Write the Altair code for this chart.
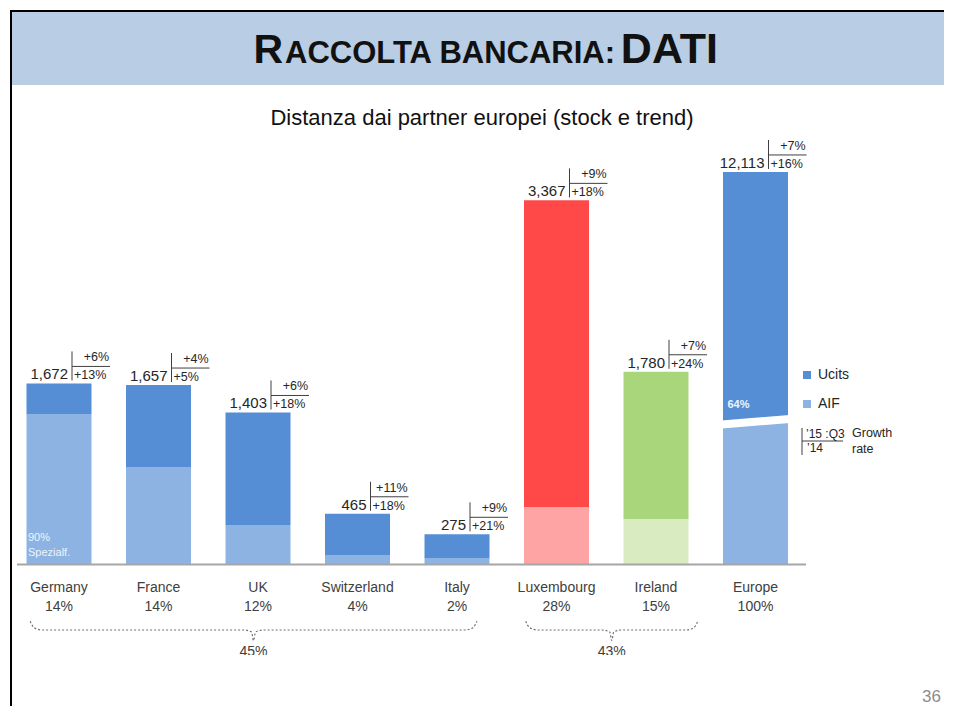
import altair as alt
import pandas as pd

# ---------------- data ----------------
countries = ["Germany", "France", "UK", "Switzerland", "Italy", "Luxembourg", "Ireland", "Europe"]
shares = ["14%", "14%", "12%", "4%", "2%", "28%", "15%", "100%"]
totals = [1672, 1657, 1403, 465, 275, 3367, 1780, 12113]
total_labels = ["1,672", "1,657", "1,403", "465", "275", "3,367", "1,780", "12,113"]
aif_values = [1389, 898, 361, 83, 56, 528, 417, 4361]
growth_q3 = ["+6%", "+4%", "+6%", "+11%", "+9%", "+9%", "+7%", "+7%"]
growth_14 = ["+13%", "+5%", "+18%", "+18%", "+21%", "+18%", "+24%", "+16%"]
ucits_colors = ["#558ed5", "#558ed5", "#558ed5", "#558ed5", "#558ed5", "#ff4848", "#a9d57b", "#558ed5"]
aif_colors = ["#8db3e2", "#8db3e2", "#8db3e2", "#8db3e2", "#8db3e2", "#ffa4a4", "#d8ebc1", "#8db3e2"]
# Europe is drawn on a broken axis
europe_break_at = 1320
europe_shown_top = 3630
europe_break_band = [1290, 1345]
# curly braces grouping countries (label, first pos, last pos)
brace_groups = [("45%", -0.29, 4.2), ("43%", 4.69, 6.42)]
legend_types = ["Ucits", "AIF"]
legend_colors = ["#558ed5", "#8db3e2"]

FONT = "Liberation Sans"
W, H = 936, 698

def px(x):
    return x - 8

xs = alt.Scale(domain=[0, 7], range=[51, 747.5], padding=0, nice=False, zero=False)
ys = alt.Scale(domain=[0, 4000], range=[556, 124], padding=0, nice=False)

# ---------------- tables ----------------
rows = []
tops = []
for i, c in enumerate(countries):
    if c == "Europe":
        a_top, top = europe_break_at, europe_shown_top
    else:
        a_top, top = aif_values[i], totals[i]
    rows.append({"pos": i, "country": c, "type": "AIF", "start": 0, "end": a_top, "color": aif_colors[i]})
    rows.append({"pos": i, "country": c, "type": "Ucits", "start": a_top, "end": top, "color": ucits_colors[i]})
    tops.append({"pos": i, "top": top, "label": total_labels[i], "g1": growth_q3[i], "g2": growth_14[i],
                 "country": c, "share": shares[i]})
bars_df = pd.DataFrame(rows)
tops_df = pd.DataFrame(tops)

brace_rows = []
for gi, (lab, x0, x1) in enumerate(brace_groups):
    mid = (x0 + x1) / 2
    pts = [(x0, -530), (x0 + 0.04, -590), (x0 + 0.12, -611), (mid - 0.1, -611), (mid - 0.02, -630),
           (mid, -710), (mid + 0.02, -630), (mid + 0.1, -611), (x1 - 0.12, -611), (x1 - 0.04, -590), (x1, -530)]
    for k, (x, y) in enumerate(pts):
        brace_rows.append({"g": gi, "o": k, "x": x, "y": y})
brace_df = pd.DataFrame(brace_rows)
brace_lab_df = pd.DataFrame({"x": [(a + b) / 2 for _, a, b in brace_groups], "label": [g[0] for g in brace_groups]})

one = pd.DataFrame({"k": [0]})

def txt(s, x, y, size, align="left", color="#262626", weight="normal", baseline="middle", font=FONT):
    return alt.Chart(one).mark_text(text=s, fontSize=size, align=align, baseline=baseline, color=color,
                                    fontWeight=weight, font=font).encode(x=alt.value(px(x)), y=alt.value(px(y)))

def X(field="pos"):
    return alt.X(f"{field}:Q", scale=xs, axis=None)

def Y(field):
    return alt.Y(f"{field}:Q", scale=ys, axis=None)

# ---------------- slide frame ----------------
frame_left = alt.Chart(one).mark_rule(color="black", strokeWidth=2).encode(
    x=alt.value(3), y=alt.value(3), y2=alt.value(H))
frame_top = alt.Chart(one).mark_rule(color="black", strokeWidth=2).encode(
    x=alt.value(2), x2=alt.value(W), y=alt.value(3))
band = alt.Chart(one).mark_rect(fill="#b9cde5").encode(
    x=alt.value(4), x2=alt.value(W), y=alt.value(4), y2=alt.value(77))
t1 = txt("R", 283, 63, 41, align="right", color="#111111", weight="bold", baseline="alphabetic")
t2 = txt("ACCOLTA BANCARIA:", 285, 63, 31, color="#111111", weight="bold", baseline="alphabetic")
t3 = txt("DATI", 718, 63, 43, align="right", color="#111111", weight="bold", baseline="alphabetic")
subtitle = txt("Distanza dai partner europei (stock e trend)", 482, 118, 22, align="center", color="#111111")

# ---------------- bars ----------------
bars = alt.Chart(bars_df).mark_bar(size=65).encode(
    x=X(), y=Y("start"), y2=alt.Y2("end"), fill=alt.Fill("color:N", scale=None))
brk = alt.Chart(pd.DataFrame({"pos": [7], "a": [europe_break_band[0]], "b": [europe_break_band[1]]})).mark_rule(
    color="white", strokeWidth=8, xOffset=-37, x2Offset=37).encode(
    x=X(), x2=alt.X2("pos"), y=Y("a"), y2=alt.Y2("b"))
baseline = alt.Chart(one).mark_rule(color="#a6a6a6", strokeWidth=2).encode(
    x=alt.value(px(17)), x2=alt.value(px(806)), y=alt.value(px(564.5)))

# ---------------- value and growth labels ----------------
base_top = alt.Chart(tops_df)
val = base_top.mark_text(align="right", baseline="middle", dx=9, dy=-9, fontSize=15, font=FONT,
                         color="#262626").encode(x=X(), y=Y("top"), text="label:N")
vline = base_top.mark_rule(color="#404040", strokeWidth=1, xOffset=13, yOffset=-3, y2Offset=-32).encode(
    x=X(), y=Y("top"), y2=alt.Y2("top"))
hline = base_top.mark_rule(color="#404040", strokeWidth=1, xOffset=13, x2Offset=51, yOffset=-17).encode(
    x=X(), x2=alt.X2("pos"), y=Y("top"))
g1 = base_top.mark_text(align="right", baseline="middle", dx=50, dy=-26, fontSize=12.5, font=FONT,
                        color="#262626").encode(x=X(), y=Y("top"), text="g1:N")
g2 = base_top.mark_text(align="left", baseline="middle", dx=15, dy=-8, fontSize=12.5, font=FONT,
                        color="#262626").encode(x=X(), y=Y("top"), text="g2:N")

# ---------------- category labels ----------------
cname = base_top.mark_text(baseline="middle", fontSize=14, font=FONT, color="#404040").encode(
    x=X(), y=alt.value(px(588)), text="country:N")
cshare = base_top.mark_text(baseline="middle", fontSize=14, font=FONT, color="#404040").encode(
    x=X(), y=alt.value(px(607)), text="share:N")

# ---------------- in-bar notes ----------------
note_de = alt.Chart(pd.DataFrame({"pos": [0], "y": [0], "t": ["90%\nSpezialf."]})).mark_text(
    align="left", baseline="middle", dx=-31, dy=-26, fontSize=11, font=FONT, color="#eef4fb",
    lineBreak="\n", lineHeight=15).encode(x=X(), y=Y("y"), text="t:N")
note_eu = alt.Chart(pd.DataFrame({"pos": [7], "y": [europe_break_at], "t": ["64%"]})).mark_text(
    align="left", baseline="middle", dx=-28, dy=-16, fontSize=11, font=FONT, color="#eef4fb",
    fontWeight="bold").encode(x=X(), y=Y("y"), text="t:N")

# ---------------- braces ----------------
braces = alt.Chart(brace_df).mark_line(color="#707070", strokeWidth=1.2, strokeDash=[2, 2],
                                        interpolate="monotone").encode(
    x=X("x"), y=Y("y"), detail="g:N", order="o:Q")
brace_lab = alt.Chart(brace_lab_df).mark_text(baseline="middle", fontSize=14, font=FONT, color="#404040").encode(
    x=X("x"), y=alt.value(px(652)), text="label:N")
cover = alt.Chart(one).mark_rect(fill="white").encode(
    x=alt.value(5), x2=alt.value(W), y=alt.value(px(655)), y2=alt.value(px(690)))
page = txt("36", 922, 697, 17, color="#8c8c8c")

# ---------------- legend ----------------
leg = alt.Chart(pd.DataFrame({"type": legend_types})).mark_point(opacity=0, filled=True).encode(
    x=alt.value(0), y=alt.value(0),
    color=alt.Color("type:N", scale=alt.Scale(domain=legend_types, range=legend_colors),
                    legend=alt.Legend(orient="none", legendX=792, legendY=360, title=None,
                                      symbolType="square", symbolSize=64, symbolOpacity=1,
                                      symbolStrokeWidth=0, labelFontSize=14, labelFont=FONT,
                                      labelColor="#262626", rowPadding=15, labelOffset=4)))
gv = alt.Chart(one).mark_rule(color="#404040", strokeWidth=1).encode(
    x=alt.value(px(802)), y=alt.value(px(428)), y2=alt.value(px(455)))
gh = alt.Chart(one).mark_rule(color="#404040", strokeWidth=1).encode(
    x=alt.value(px(802)), x2=alt.value(px(843)), y=alt.value(px(441)))
gt1 = txt("\u201915 :Q3", 806, 434, 12)
gt2 = txt("\u201914", 807, 448, 12)
gt3 = txt("Growth", 852, 433, 12.5)
gt4 = txt("rate", 852, 449, 12.5)

chart = alt.layer(
    band, frame_left, frame_top, t1, t2, t3, subtitle,
    bars, brk, baseline, note_de, note_eu,
    vline, hline, val, g1, g2,
    cname, cshare, braces, brace_lab, cover, page,
    leg, gv, gh, gt1, gt2, gt3, gt4,
).properties(width=W, height=H, autosize=alt.AutoSizeParams(type="none"), padding=0,
             background="white"
).configure_view(stroke=None, strokeWidth=0)

chart.save("out.html", embed_options={"renderer": "svg", "actions": False})
